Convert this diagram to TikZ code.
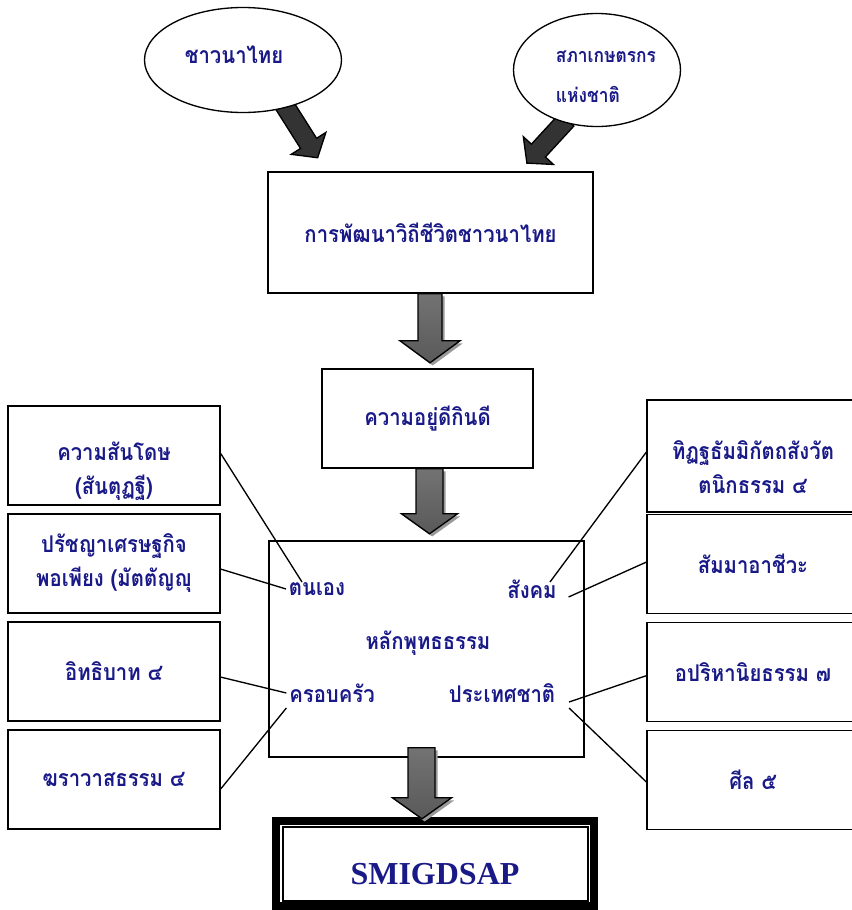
\documentclass[tikz,border=0pt]{standalone}
\usepackage{fontspec}
\setmainfont{Liberation Serif}
\newfontfamily\thaifont[Script=Thai, FakeStretch=0.88]{Loma}
\usepackage{tikz}
\usetikzlibrary{shapes.geometric, arrows.meta, positioning, shadows, backgrounds}
\definecolor{navytext}{RGB}{25,25,135}
\newcommand{\thaitxt}{\thaifont\bfseries\fontsize{17.3}{25.5}\selectfont}
\tikzstyle{mainbox} = [rectangle, text centered, draw=black, line width=1.2pt, font=\thaitxt, text=navytext]
\tikzstyle{sidebox} = [rectangle, align=center, draw=black, line width=1.2pt, minimum width=159pt, minimum height=74.25pt, font=\thaitxt, text=navytext]
\tikzstyle{bubble} = [ellipse, draw=black, line width=1pt, fill=white]
\tikzstyle{keyword} = [font=\thaitxt, text=navytext, inner sep=2pt]
\tikzstyle{resultbox} = [rectangle, draw=black, line width=6pt, minimum width=238.5pt, minimum height=63.75pt, font=\bfseries\fontsize{24}{28}\selectfont, text=navytext, text height=31.5pt, text depth=0pt]
\tikzstyle{link} = [line width=1pt]
\tikzstyle{fatarrow} = [draw=black, line width=1pt, top color=black!55, middle color=black, bottom color=black!65, drop shadow={shadow xshift=2pt, shadow yshift=-2pt, fill=black!40, opacity=1}]
\tikzstyle{darkarrow} = [draw=black, line width=1pt, fill=black!80]

\begin{document}
\begin{tikzpicture}[x=0.75pt, y=-0.75pt, node distance=81pt]
			\path [use as bounding box, clip] (0,0) rectangle (852,910);
			% Nodes
			\node (farmers) [bubble, minimum width=147.75pt, minimum height=78.75pt, path picture={\node [keyword] at ([shift={(-9,-5)}]path picture bounding box.center) {ชาวนาไทย};}] at (243,60) {};
			\node (council) [bubble, minimum width=125.25pt, minimum height=84.75pt, path picture={\node [keyword, align=left, font=\thaifont\bfseries\fontsize{14.8}{25.5}\selectfont] at ([shift={(9,7)}]path picture bounding box.center) {สภาเกษตรกร\\[4.5pt]แห่งชาติ};}] at (597,70) {};
			\node (develop) [mainbox, minimum width=243.75pt, minimum height=90.75pt] at (430.5,232.5) {การพัฒนาวิถีชีวิตชาวนาไทย};
			\node (wellbeing) [mainbox, below of=develop, yshift=-58.5pt, xshift=-2.25pt, minimum width=158.25pt, minimum height=74.25pt] {ความอยู่ดีกินดี};
			\node (core) [mainbox, below of=wellbeing, yshift=-91.875pt, xshift=-0.75pt, minimum width=236.25pt, minimum height=162pt] {};
			\node (result) [resultbox, below of=core, yshift=-79.875pt, xshift=6.375pt] {SMIGDSAP};
			% Labels inside the core box
			\node (dharma) [keyword] at (428,643) {หลักพุทธธรรม};
			\node (self) [keyword] at (317,589) {ตนเอง};
			\node (society) [keyword] at (532,589) {สังคม};
			\node (family) [keyword] at (332,693) {ครอบครัว};
			\node (nation) [keyword] at (502,693) {ประเทศชาติ};
			% Side boxes
			\node (l1) [sidebox, path picture={\node [keyword, align=center] at ([yshift=-11.5pt]path picture bounding box.center) {ความสันโดษ\\(สันตุฏฐี)};}] at (114,455.5) {};
			\node (l2) [sidebox, below of=l1] {ปรัชญาเศรษฐกิจ\\พอเพียง (มัตตัญญุ};
			\node (l3) [sidebox, below of=l2] {อิทธิบาท ๔};
			\node (l4) [sidebox, below of=l3] {ฆราวาสธรรม ๔};
			\node (r1) [sidebox, minimum height=84pt, path picture={\node [keyword, align=center] at ([yshift=-8.5pt]path picture bounding box.center) {ทิฏฐธัมมิกัตถสังวัต\\ตนิกธรรม ๔};}] at (753,456) {};
			\node (r2) [sidebox, below of=r1] {สัมมาอาชีวะ};
			\node (r3) [sidebox, below of=r2] {อปริหานิยธรรม ๗};
			\node (r4) [sidebox, below of=r3] {ศีล ๕};
			% Block arrows
			\begin{scope}[on background layer]
			\draw [darkarrow, shift={(farmers.-48)}, rotate=-57.7] (-4,-9.5) -- (42,-9.5) -- (42,-20.5) -- (59,0) -- (42,20.5) -- (42,9.5) -- (-4,9.5) -- cycle;
			\draw [darkarrow, shift={(council.-122)}, rotate=-132.6] (-4,-9.5) -- (38,-9.5) -- (38,-20.5) -- (55,0) -- (38,20.5) -- (38,9.5) -- (-4,9.5) -- cycle;
			\end{scope}
			\draw [fatarrow, shift={(develop.south)}] (-12.5,0) -- (-12.5,47) -- (-30.5,47) -- (-0.5,69) -- (29.5,47) -- (11.5,47) -- (11.5,0) -- cycle;
			\draw [fatarrow, shift={(wellbeing.south)}] (-11.5,0) -- (-11.5,45) -- (-26,45) -- (2,65) -- (30,45) -- (15.5,45) -- (15.5,0) -- cycle;
			\draw [fatarrow, shift={(core.south)}] (-18.5,-10) -- (-18.5,40) -- (-34,40) -- (-4.5,61) -- (25,40) -- (8.5,40) -- (8.5,-10) -- cycle;
			\draw [line width=1.2pt] ([shift={(11,10)}]result.north west) rectangle ([shift={(-10,-9)}]result.south east);
			% Links
			\draw [link] (l1.1) -- ([shift={(-15,-7)}]self.center);
			\draw [link] (l2.-3) -- (self.west);
			\draw [link] (l3.-3) -- (family.west);
			\draw [link] (l4.-5) -- ([shift={(0,15)}]family.west);
			\draw [link] (r1.178) -- ([shift={(18,-7)}]society.center);
			\draw [link] (r2.179) -- ([shift={(9,8)}]society.east);
			\draw [link] (r3.182) -- ([shift={(11,9)}]nation.east);
			\draw [link] (r4.181) -- ([shift={(11,15)}]nation.east);
		\end{tikzpicture}
\end{document}
